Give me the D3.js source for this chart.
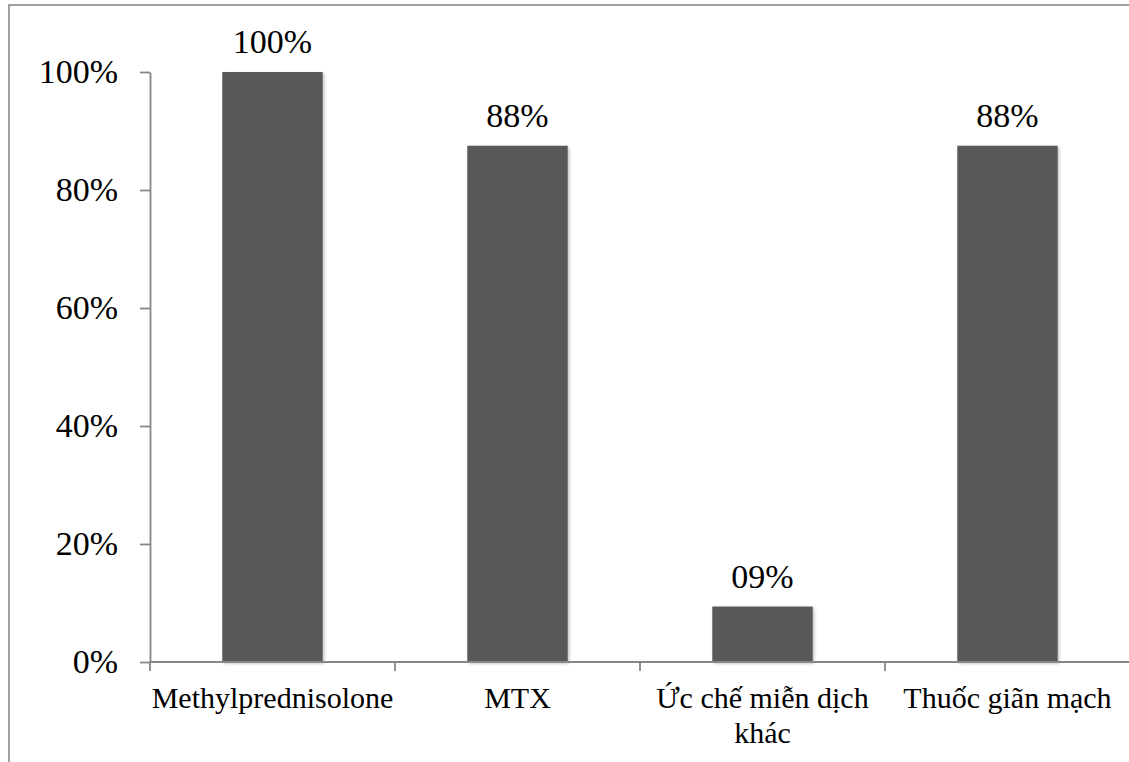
<!DOCTYPE html>
<html>
<head>
<meta charset="utf-8">
<script src="https://cdn.jsdelivr.net/npm/d3@7"></script>
<style>
  html, body { margin: 0; padding: 0; background: #fff; }
  svg { display: block; }
  text { font-family: "Liberation Serif", "Times New Roman", serif; fill: #000; }
</style>
</head>
<body>
<script>
// ---- data ----
const categories = ["Methylprednisolone", "MTX", "Ức chế miễn dịch|khác", "Thuốc giãn mạch"];
const values = [1.00, 0.875, 0.094, 0.875];
const valueLabels = ["100%", "88%", "09%", "88%"];
const yTicks = [0, 0.2, 0.4, 0.6, 0.8, 1.0];

const W = 1129, H = 762;
const svg = d3.select("body").append("svg").attr("width", W).attr("height", H);

const defs = svg.append("defs");
const f = defs.append("filter").attr("id", "shadow").attr("x", "-10%").attr("y", "-10%").attr("width", "130%").attr("height", "130%");
f.append("feDropShadow").attr("dx", 1.5).attr("dy", 1.5).attr("stdDeviation", 1.5).attr("flood-color", "#000").attr("flood-opacity", 0.25);

// frame (right and bottom edges fall outside the picture)
svg.append("rect").attr("x", 9).attr("y", 5).attr("width", 1140).attr("height", 800)
  .attr("fill", "none").attr("stroke", "#8a8a8a").attr("stroke-width", 1.6);

const x = d3.scaleBand().domain(categories).range([150, 1130]).paddingInner(0.59).paddingOuter(0.295);
const y = d3.scaleLinear().domain([0, 1]).range([662, 72]);

// bars
svg.append("g").selectAll("rect").data(categories).join("rect")
  .attr("x", d => x(d)).attr("width", x.bandwidth())
  .attr("y", (d, i) => y(values[i])).attr("height", (d, i) => y(0) - y(values[i]))
  .attr("fill", "#595959").attr("filter", "url(#shadow)");

// value labels
svg.append("g").selectAll("text").data(categories).join("text")
  .attr("x", d => x(d) + x.bandwidth() / 2)
  .attr("y", (d, i) => y(values[i]) - 19)
  .attr("text-anchor", "middle").attr("font-size", 34)
  .text((d, i) => valueLabels[i]);

// y axis
const yAxis = svg.append("g").attr("transform", "translate(150,0)")
  .call(d3.axisLeft(y).tickValues(yTicks).tickFormat(d3.format(".0%")).tickSize(10).tickSizeOuter(0).tickPadding(22));
yAxis.selectAll("path, line").attr("stroke", "#868686").attr("stroke-width", 1.8);
yAxis.selectAll("text").attr("font-size", 34).attr("font-family", "Liberation Serif").attr("fill", "#000").attr("dy", "0.3em");

// x axis
const xg = svg.append("g");
xg.append("line").attr("x1", 150).attr("x2", 1130).attr("y1", y(0)).attr("y2", y(0))
  .attr("stroke", "#868686").attr("stroke-width", 1.8);
const bounds = categories.map(d => x(d) - x.step() * x.paddingInner() / 2);
xg.selectAll("line.tk").data(bounds).join("line").attr("class", "tk")
  .attr("x1", d => d).attr("x2", d => d).attr("y1", y(0)).attr("y2", y(0) + 9)
  .attr("stroke", "#868686").attr("stroke-width", 1.8);

const labels = xg.selectAll("text").data(categories).join("text")
  .attr("x", d => x(d) + x.bandwidth() / 2).attr("y", 708)
  .attr("text-anchor", "middle").attr("font-size", 30);
labels.each(function(d) {
  const parts = d.split("|");
  const t = d3.select(this);
  parts.forEach((p, i) => {
    t.append("tspan").attr("x", x(d) + x.bandwidth() / 2).attr("dy", i === 0 ? 0 : 35).text(p);
  });
});
</script>
</body>
</html>
